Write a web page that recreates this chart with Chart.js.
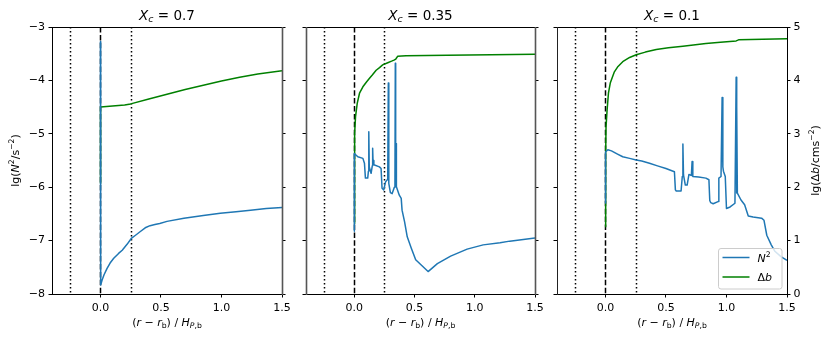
<!DOCTYPE html>
<html>
<head>
<meta charset="utf-8">
<script src="https://cdn.jsdelivr.net/npm/chart.js@4.4.1/dist/chart.umd.min.js"></script>
<style>
  html, body { margin: 0; padding: 0; background: #fff; }
  #wrap { position: relative; width: 831px; height: 339px; }
  #wrap canvas { position: absolute; left: 0; top: 0; }
</style>
</head>
<body>
<div id="wrap">
  <canvas id="c0" width="831" height="339"></canvas>
  <canvas id="c1" width="831" height="339"></canvas>
  <canvas id="c2" width="831" height="339"></canvas>
</div>
<script>
// ---- data ----
const panelTitles = ["0.7", "0.35", "0.1"];

const xTicks = [0, 0.5, 1.0, 1.5];
const n2Ticks = [-8, -7, -6, -5, -4, -3];
const dbTicks = [0, 1, 2, 3, 4, 5];
const vDotted = [-0.25, 0.25];
const vDashed = [0];

// Xc = 0.7
const n2X_a = [0, 0.002, 0.014, 0.03, 0.055, 0.08, 0.11, 0.15, 0.18, 0.22, 0.255, 0.29, 0.33, 0.37, 0.41, 0.45, 0.49, 0.55, 0.69, 0.85, 0.99, 1.12, 1.24, 1.37, 1.5];
const n2Y_a = [-3.27, -7.83, -7.74, -7.64, -7.52, -7.42, -7.33, -7.24, -7.18, -7.07, -6.96, -6.90, -6.83, -6.76, -6.72, -6.70, -6.68, -6.64, -6.58, -6.53, -6.49, -6.46, -6.43, -6.40, -6.38];
const dbX_a = [0, 0.001, 0.1, 0.2, 0.25, 0.4, 0.55, 0.7, 0.85, 1.0, 1.15, 1.3, 1.5];
const dbY_a = [2.07, 3.50, 3.52, 3.54, 3.56, 3.65, 3.74, 3.83, 3.91, 3.99, 4.06, 4.12, 4.18];

// Xc = 0.35
const n2X_b = [0, 0.001, 0.03, 0.072, 0.085, 0.093, 0.112, 0.118, 0.121, 0.125, 0.14, 0.15, 0.153, 0.156, 0.163, 0.209, 0.223, 0.231, 0.245, 0.26, 0.278, 0.283, 0.287, 0.30, 0.315, 0.333, 0.338, 0.341, 0.344, 0.347, 0.35, 0.374, 0.39, 0.397, 0.418, 0.44, 0.473, 0.51, 0.613, 0.69, 0.80, 0.937, 1.07, 1.21, 1.29, 1.5];
const n2Y_b = [-6.83, -5.37, -5.43, -5.46, -5.55, -5.83, -5.83, -5.7, -4.96, -5.62, -5.74, -5.6, -5.27, -5.5, -5.58, -5.62, -5.65, -6.02, -6.05, -5.90, -5.85, -4.05, -5.93, -6.10, -6.12, -6.0, -5.95, -3.68, -5.95, -5.18, -5.99, -6.15, -6.21, -6.43, -6.65, -6.93, -7.14, -7.36, -7.58, -7.43, -7.29, -7.16, -7.08, -7.04, -7.01, -6.95];
const dbX_b = [0, 0.002, 0.005, 0.011, 0.025, 0.044, 0.072, 0.105, 0.127, 0.15, 0.182, 0.21, 0.236, 0.278, 0.31, 0.33, 0.345, 0.36, 0.43, 0.77, 1.5];
const dbY_b = [1.32, 2.7, 3.01, 3.32, 3.57, 3.76, 3.88, 3.98, 4.04, 4.1, 4.19, 4.24, 4.29, 4.33, 4.36, 4.38, 4.40, 4.45, 4.46, 4.47, 4.49];

// Xc = 0.1
const n2X_c = [0, 0.001, 0.02, 0.05, 0.1, 0.143, 0.2, 0.254, 0.3, 0.364, 0.43, 0.5, 0.57, 0.578, 0.585, 0.625, 0.635, 0.64, 0.645, 0.66, 0.675, 0.69, 0.71, 0.716, 0.722, 0.77, 0.83, 0.855, 0.862, 0.87, 0.89, 0.93, 0.937, 0.955, 0.964, 0.97, 0.975, 0.99, 1.0, 1.03, 1.07, 1.08, 1.083, 1.086, 1.09, 1.12, 1.15, 1.18, 1.22, 1.29, 1.31, 1.333, 1.37, 1.4, 1.45, 1.5];
const n2Y_c = [-6.3, -5.34, -5.30, -5.32, -5.38, -5.43, -5.46, -5.49, -5.51, -5.55, -5.60, -5.65, -5.71, -6.05, -6.07, -6.07, -5.8, -5.19, -5.77, -5.96, -5.96, -5.76, -5.78, -5.52, -5.80, -5.81, -5.83, -5.86, -6.25, -6.29, -6.31, -6.27, -5.83, -5.80, -4.32, -5.62, -5.70, -5.80, -6.40, -6.37, -6.30, -3.94, -6.11, -4.49, -6.11, -6.24, -6.33, -6.54, -6.56, -6.58, -6.62, -6.90, -7.08, -7.2, -7.3, -7.37];
const dbX_c = [0, 0.002, 0.005, 0.014, 0.025, 0.04, 0.074, 0.1, 0.143, 0.2, 0.254, 0.33, 0.42, 0.52, 0.64, 0.83, 0.95, 1.08, 1.1, 1.5];
const dbY_c = [1.26, 2.6, 3.13, 3.45, 3.76, 3.95, 4.16, 4.25, 4.35, 4.43, 4.48, 4.53, 4.58, 4.61, 4.64, 4.69, 4.715, 4.74, 4.76, 4.78];

const seriesLabels = ["N2", "Δb"];
const BLUE = "#1f77b4", GREEN = "#008000";

// ---- helpers ----
const FONT = '"DejaVu Sans", sans-serif';
const MINUS = "\u2212";

function segFont(s, size){
  const sz = (s.sub || s.sup) ? size * 0.7 : size;
  return (s.it ? "italic " : "") + sz + "px " + FONT;
}
function richWidth(ctx, segs, size){
  let w = 0;
  segs.forEach(s => { ctx.font = segFont(s, size); w += ctx.measureText(s.t).width; });
  return w;
}
function drawRich(ctx, segs, x, y, size, align){
  const w = richWidth(ctx, segs, size);
  let cx = align === "center" ? x - w / 2 : x;
  ctx.textAlign = "left";
  ctx.textBaseline = "alphabetic";
  ctx.fillStyle = "#000";
  segs.forEach(s => {
    ctx.font = segFont(s, size);
    const dy = s.sub ? size * 0.22 : (s.sup ? -size * 0.4 : 0);
    ctx.fillText(s.t, cx, y + dy);
    cx += ctx.measureText(s.t).width;
  });
}

const xLabelSegs = [{t:"("},{t:"r",it:1},{t:" " + MINUS + " "},{t:"r",it:1},{t:"b",sub:1},{t:") / "},{t:"H",it:1},{t:"P",it:1,sub:1},{t:",b",sub:1}];
const yLeftSegs = [{t:"lg("},{t:"N",it:1},{t:"2",sup:1},{t:"/s"},{t:MINUS + "2",sup:1},{t:")"}];
const yRightSegs = [{t:"lg(\u0394"},{t:"b",it:1},{t:"/cms"},{t:MINUS + "2",sup:1},{t:")"}];
const legendSegs = [[{t:"N",it:1},{t:"2",sup:1}], [{t:"\u0394"},{t:"b",it:1}]];

function fmtInt(v){ return v < 0 ? MINUS + Math.abs(v) : String(v); }

// panel boxes in the 831x339 figure
const panels = [
  { L: 52, R: 282, spineL: ["#000", 1], spineR: ["#555", 1.6] },
  { L: 306, R: 535, spineL: ["#555", 1.6], spineR: ["#555", 1.6] },
  { L: 557, R: 787, spineL: ["#222", 1], spineR: ["#000", 1] }
];
const TOP = 27, BOTTOM = 294;

function pts(xs, ys){ return xs.map((x, i) => ({ x: x, y: ys[i] })); }

const decor = {
  id: "decor",
  beforeDatasetsDraw(chart){
    const ctx = chart.ctx, a = chart.chartArea, xs = chart.scales.x;
    ctx.save();
    ctx.strokeStyle = "#000";
    ctx.lineWidth = 1.5;
    ctx.lineCap = "butt";
    vDotted.forEach(v => {
      const px = Math.round(xs.getPixelForValue(v)) + 0.5;
      ctx.setLineDash([1.5, 2.5]);
      ctx.beginPath(); ctx.moveTo(px, a.top); ctx.lineTo(px, a.bottom); ctx.stroke();
    });
    vDashed.forEach(v => {
      const px = Math.round(xs.getPixelForValue(v)) + 0.5;
      ctx.setLineDash([5.5, 2.4]);
      ctx.beginPath(); ctx.moveTo(px, a.top); ctx.lineTo(px, a.bottom); ctx.stroke();
    });
    ctx.restore();
  },
  afterDatasetsDraw(chart, args, opts){
    const ctx = chart.ctx, a = chart.chartArea, p = panels[opts.idx];
    ctx.save();
    ctx.setLineDash([]);
    // top & bottom spines
    ctx.strokeStyle = "#000"; ctx.lineWidth = 1;
    ctx.beginPath(); ctx.moveTo(a.left, a.top + 0.5); ctx.lineTo(a.right, a.top + 0.5); ctx.stroke();
    ctx.beginPath(); ctx.moveTo(a.left, a.bottom + 0.5); ctx.lineTo(a.right, a.bottom + 0.5); ctx.stroke();
    // side spines
    ctx.strokeStyle = p.spineL[0]; ctx.lineWidth = p.spineL[1];
    ctx.beginPath(); ctx.moveTo(a.left + 0.5, a.top); ctx.lineTo(a.left + 0.5, a.bottom + 1); ctx.stroke();
    ctx.strokeStyle = p.spineR[0]; ctx.lineWidth = p.spineR[1];
    ctx.beginPath(); ctx.moveTo(a.right + 0.5, a.top); ctx.lineTo(a.right + 0.5, a.bottom + 1); ctx.stroke();

    // title
    const cx = (a.left + a.right) / 2;
    drawRich(ctx, [{t:"X",it:1},{t:"c",it:1,sub:1},{t:" = " + panelTitles[opts.idx]}], cx, 19.5, 13.5, "center");
    // x label
    drawRich(ctx, xLabelSegs, cx, 326, 11, "center");
    const cy = (a.top + a.bottom) / 2;
    if (opts.idx === 0){
      ctx.save(); ctx.translate(18.5, cy); ctx.rotate(-Math.PI / 2);
      drawRich(ctx, yLeftSegs, 0, 0, 11, "center"); ctx.restore();
    }
    if (opts.idx === 2){
      ctx.save(); ctx.translate(818.5, cy); ctx.rotate(-Math.PI / 2);
      drawRich(ctx, yRightSegs, 0, 0, 11, "center"); ctx.restore();

      // legend
      const w = 63.5, h = 40.5;
      const lx = a.right - 5.5 - w, ly = a.bottom - 6 - h;
      ctx.fillStyle = "rgba(255,255,255,0.8)";
      ctx.strokeStyle = "#cccccc"; ctx.lineWidth = 1;
      ctx.beginPath(); ctx.roundRect(Math.round(lx) + 0.5, Math.round(ly) + 0.5, w, h, 2.5); ctx.fill(); ctx.stroke();
      const rows = [ly + 10, ly + 29.5];
      chart.data.datasets.forEach((ds, i) => {
        ctx.strokeStyle = ds.borderColor; ctx.lineWidth = 1.5;
        ctx.beginPath(); ctx.moveTo(lx + 4.5, rows[i]); ctx.lineTo(lx + 31.5, rows[i]); ctx.stroke();
        drawRich(ctx, legendSegs[i], lx + 39.5, rows[i] + 4, 11, "left");
      });
    }
    ctx.restore();
  }
};

function makePanel(idx, n2x, n2y, dbx, dby){
  const p = panels[idx];
  const tickFont = { family: "DejaVu Sans", size: 11 };
  const gridCommon = { display: true, drawOnChartArea: false, drawTicks: true, tickLength: 3.5, tickWidth: 1, tickColor: "#000" };
  return new Chart(document.getElementById("c" + idx), {
    type: "scatter",
    data: {
      datasets: [
        { label: seriesLabels[0], data: pts(n2x, n2y), yAxisID: "y", showLine: true, borderColor: BLUE, backgroundColor: BLUE, borderWidth: 1.5, pointRadius: 0, borderJoinStyle: "round", tension: 0 },
        { label: seriesLabels[1], data: pts(dbx, dby), yAxisID: "y2", showLine: true, borderColor: GREEN, backgroundColor: GREEN, borderWidth: 1.5, pointRadius: 0, borderJoinStyle: "round", tension: 0 }
      ]
    },
    options: {
      responsive: false,
      animation: false,
      devicePixelRatio: 1,
      events: [],
      layout: { padding: { left: p.L - 40, right: 831 - p.R - 40, top: TOP, bottom: 339 - BOTTOM - 30 } },
      plugins: { legend: { display: false }, title: { display: false }, tooltip: { enabled: false }, decor: { idx: idx } },
      scales: {
        x: {
          type: "linear", min: -0.4, max: 1.5,
          afterBuildTicks: s => { s.ticks = xTicks.map(v => ({ value: v })); },
          afterFit: s => { s.height = 30; },
          grid: gridCommon, border: { display: false },
          ticks: { font: tickFont, color: "#000", padding: 4, autoSkip: false, maxRotation: 0, callback: v => v.toFixed(1) }
        },
        y: {
          type: "linear", position: "left", min: -8, max: -3,
          afterBuildTicks: s => { s.ticks = n2Ticks.map(v => ({ value: v })); },
          afterFit: s => { s.width = 40; },
          grid: gridCommon, border: { display: false },
          ticks: { display: idx === 0, font: tickFont, color: "#000", padding: 3.5, callback: v => fmtInt(v) }
        },
        y2: {
          type: "linear", position: "right", min: 0, max: 5,
          afterBuildTicks: s => { s.ticks = dbTicks.map(v => ({ value: v })); },
          afterFit: s => { s.width = 40; },
          grid: gridCommon, border: { display: false },
          ticks: { display: idx === 2, font: tickFont, color: "#000", padding: 3, callback: v => fmtInt(v) }
        }
      }
    },
    plugins: [decor]
  });
}

makePanel(0, n2X_a, n2Y_a, dbX_a, dbY_a);
makePanel(1, n2X_b, n2Y_b, dbX_b, dbY_b);
makePanel(2, n2X_c, n2Y_c, dbX_c, dbY_c);
</script>
</body>
</html>
